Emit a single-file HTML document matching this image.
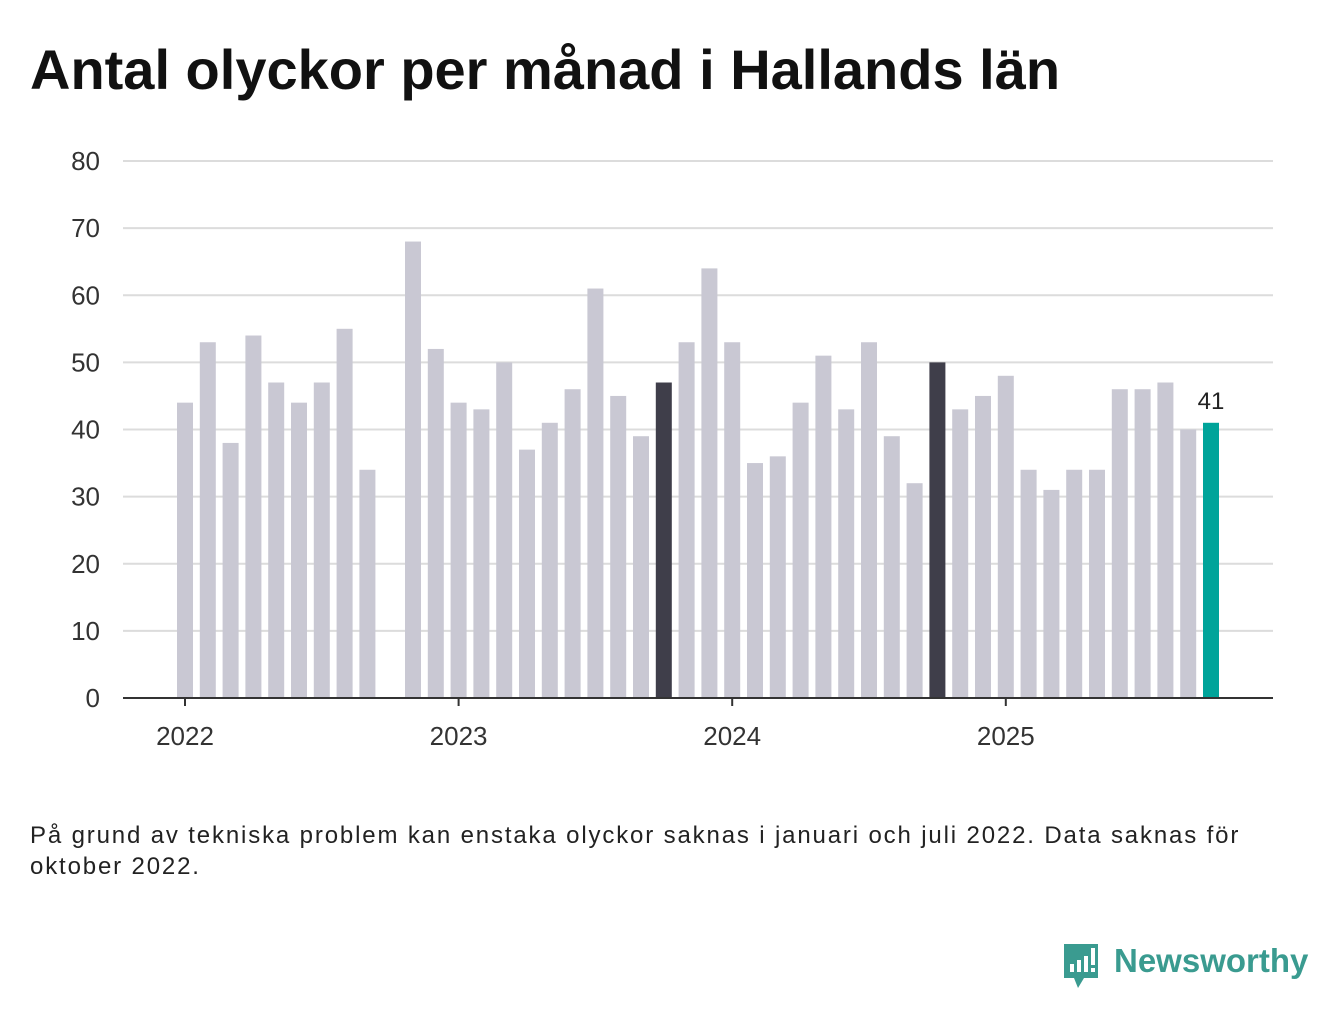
<!DOCTYPE html>
<html><head><meta charset="utf-8"><style>
body{margin:0;width:1340px;height:1020px;background:#fff;font-family:"Liberation Sans","DejaVu Sans",sans-serif;overflow:hidden}
h1{position:absolute;left:30px;top:38px;margin:0;font-size:56px;line-height:64px;font-weight:bold;color:#111;white-space:nowrap}
.note{position:absolute;left:30px;top:820px;font-size:24px;color:#222;line-height:31px;letter-spacing:1.85px;white-space:nowrap}
</style></head><body>
<h1>Antal olyckor per månad i Hallands län</h1>
<svg id="chart" width="1340" height="800" style="position:absolute;left:0;top:0"></svg>
<div class="note">På grund av tekniska problem kan enstaka olyckor saknas i januari och juli 2022. Data saknas för<br>oktober 2022.</div>
<div style="position:absolute;left:1062px;top:942px;width:250px;height:50px">
<svg width="40" height="48" style="position:absolute;left:0;top:0"><path d="M2 2h34v34h-14l-6 10-4-10h-10z" fill="#3a9b90"/><rect x="8" y="22" width="4" height="8" fill="#fff"/><rect x="15" y="18" width="4" height="12" fill="#fff"/><rect x="22" y="14" width="4" height="16" fill="#fff"/><rect x="29" y="6" width="4" height="17" fill="#fff"/><rect x="29" y="26" width="4" height="4" fill="#fff"/></svg>
<span style="position:absolute;left:52px;top:0;font-size:33px;color:#3a9b90;font-weight:bold">Newsworthy</span></div>
<script>
const months=["2022-01","2022-02","2022-03","2022-04","2022-05","2022-06","2022-07","2022-08","2022-09","2022-10","2022-11","2022-12","2023-01","2023-02","2023-03","2023-04","2023-05","2023-06","2023-07","2023-08","2023-09","2023-10","2023-11","2023-12","2024-01","2024-02","2024-03","2024-04","2024-05","2024-06","2024-07","2024-08","2024-09","2024-10","2024-11","2024-12","2025-01","2025-02","2025-03","2025-04","2025-05","2025-06","2025-07","2025-08","2025-09","2025-10"];
const values=[44,53,38,54,47,44,47,55,34,null,68,52,44,43,50,37,41,46,61,45,39,47,53,64,53,35,36,44,51,43,53,39,32,50,43,45,48,34,31,34,34,46,46,47,40,41];
const yTicks=[0,10,20,30,40,50,60,70,80];
const xTickLabels=["2022","2023","2024","2025"];
const xTickIdx=[0,12,24,36];
const svg=document.getElementById('chart');const NS='http://www.w3.org/2000/svg';
const y=v=>698-v*(698-161)/80;
const x=i=>185+i*(1211-185)/45;
function mk(t,a){const e=document.createElementNS(NS,t);for(const k in a)e.setAttribute(k,a[k]);svg.appendChild(e);return e;}
yTicks.forEach(t=>{
 if(t>0){const l=mk('line',{x1:123,x2:1273,y1:y(t),y2:y(t),stroke:'#dcdcdc','stroke-width':2});
 
 }
 const tx=mk('text',{x:100,y:y(t)+9,'text-anchor':'end','font-size':26,fill:'#333'});tx.textContent=t;
 
 
});
values.forEach((v,i)=>{if(v==null)return;
 let c='#c9c8d3';if(months[i].endsWith('-10'))c='#3f3e4a';if(i==values.length-1)c='#00a49a';
 const r=mk('rect',{x:x(i)-8,y:y(v),width:16,height:y(0)-y(v),fill:c});
 
 
});
const li=values.length-1;
const lab=mk('text',{x:x(li),y:y(values[li])-14,'text-anchor':'middle','font-size':24,fill:'#222'});lab.textContent=values[li];


const ax=mk('line',{x1:123,x2:1273,y1:698,y2:698,stroke:'#333','stroke-width':2});


xTickLabels.forEach((s,k)=>{const xi=x(xTickIdx[k]);
 const tk=mk('line',{x1:xi,x2:xi,y1:698,y2:706,stroke:'#333','stroke-width':2});
 
 
 const t=mk('text',{x:xi,y:745,'text-anchor':'middle','font-size':26,fill:'#333'});t.textContent=s;
 
 
});
</script>
</body></html>
